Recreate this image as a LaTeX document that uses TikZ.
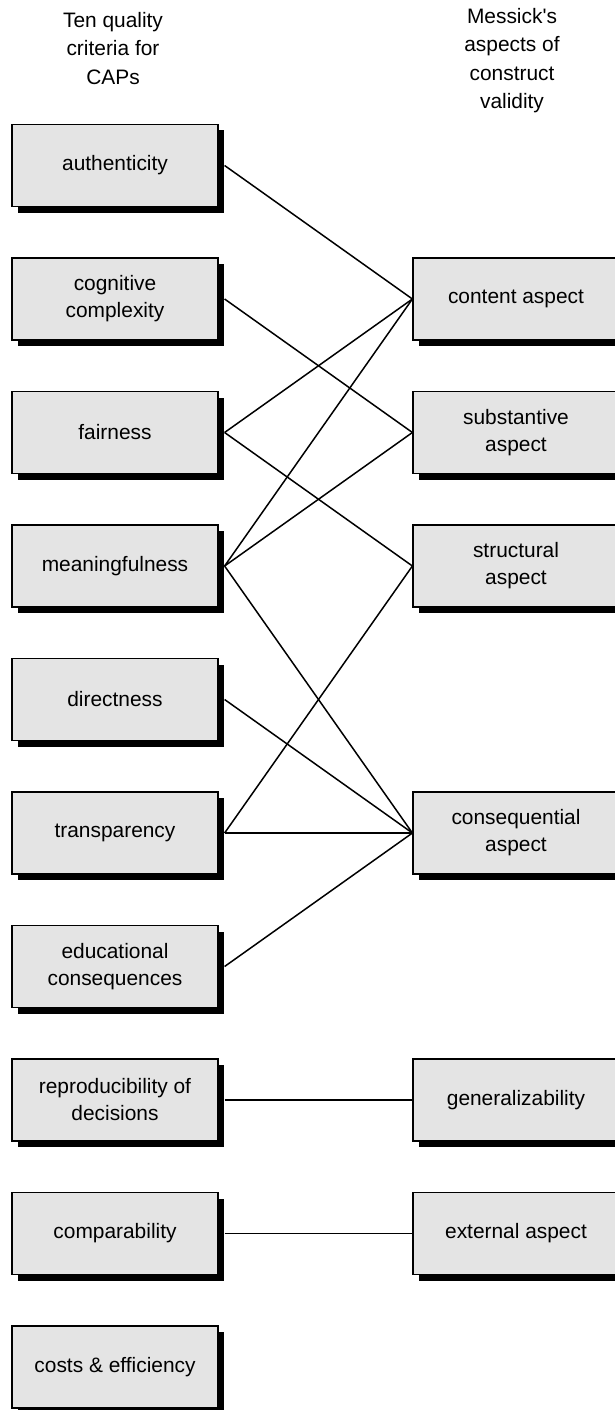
\documentclass[tikz,border=0pt]{standalone}
\usepackage{fontspec}
\setmainfont{Liberation Sans}
\usetikzlibrary{shadows}
\definecolor{boxgray}{HTML}{E4E4E4}

\begin{document}
\begin{tikzpicture}[x=1pt,y=1pt,
  crit/.style={draw,line width=1.2pt,fill=boxgray,minimum width=206pt,minimum height=82pt,
    inner sep=0pt,align=center,font=\fontsize{20.9}{27}\selectfont,
    drop shadow={shadow xshift=6pt,shadow yshift=-6pt,fill=black,opacity=1}},
  head/.style={align=center,font=\fontsize{20.9}{28.5}\selectfont},
  link/.style={line width=1.5pt}]
\useasboundingbox (0,0) rectangle (615,-1410);

\node[head] (lhead) at (113,-48.5) {Ten quality\\criteria for\\CAPs};
\node[head] (rhead) at (512,-60.5) {Messick\textquotesingle s\\aspects of\\construct\\validity};

% criteria
\node[crit] (auth) at (115,-165.5) {authenticity};
\node[crit] (cogn) at (115,-299) {cognitive\\complexity};
\node[crit] (fair) at (115,-432.5) {fairness};
\node[crit] (mean) at (115,-566) {meaningfulness};
\node[crit] (dire) at (115,-699.5) {directness};
\node[crit] (tran) at (115,-833) {transparency};
\node[crit] (educ) at (115,-966.5) {educational\\consequences};
\node[crit] (repr) at (115,-1100) {reproducibility of\\decisions};
\node[crit] (comp) at (115,-1233.5) {comparability};
\node[crit] (cost) at (115,-1367) {costs \& efficiency};

% aspects
\node[crit] (cont) at (516,-299) {content aspect};
\node[crit] (subs) at (516,-432.5) {substantive\\aspect};
\node[crit] (stru) at (516,-566) {structural\\aspect};
\node[crit] (cons) at (516,-833) {consequential\\aspect};
\node[crit] (gene) at (516,-1100) {generalizability};
\node[crit] (exte) at (516,-1233.5) {external aspect};

\foreach \a/\b in {auth/cont,cogn/subs,fair/cont,fair/stru,mean/cont,mean/subs,mean/cons,
    dire/cons,tran/stru,tran/cons,educ/cons,repr/gene,comp/exte}
  \draw[link] ([xshift=6pt]\a.east) -- (\b.west);
\end{tikzpicture}
\end{document}
